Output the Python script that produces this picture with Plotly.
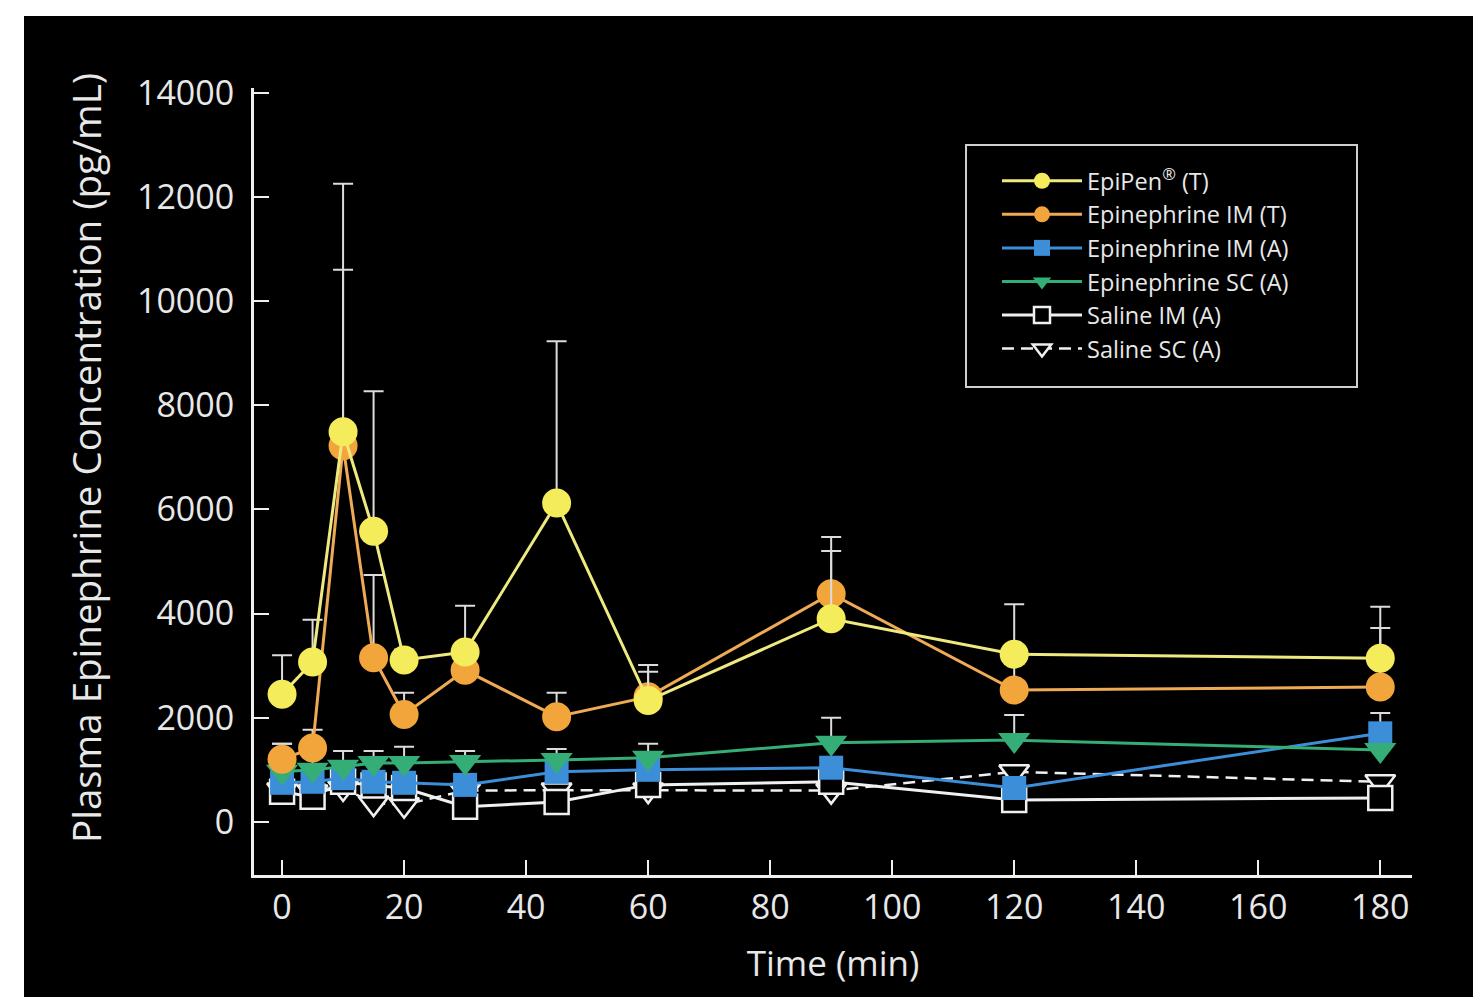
import plotly.graph_objects as go

time_min = [0, 5, 10, 15, 20, 30, 45, 60, 90, 120, 180]

epipen_t = [2450, 3070, 7490, 5580, 3110, 3260, 6120, 2330, 3900, 3220, 3140]
epipen_t_err = [750, 810, 4760, 2690, 200, 890, 3110, 680, 1300, 960, 990]

epi_im_t = [1200, 1420, 7220, 3150, 2060, 2910, 2020, 2400, 4380, 2530, 2590]
epi_im_t_err = [300, 350, 3380, 1590, 420, 400, 460, 480, 1090, 500, 1130]

epi_im_a = [750, 770, 840, 770, 750, 710, 960, 1000, 1040, 650, 1700]
epi_im_a_err = [150, 150, 150, 150, 150, 150, 150, 150, 150, 150, 390]

epi_sc_a = [960, 1000, 1060, 1130, 1130, 1150, 1190, 1230, 1520, 1570, 1380]
epi_sc_a_err = [540, 300, 300, 230, 310, 210, 210, 270, 480, 480, 0]

saline_im_a = [580, 480, 770, 700, 650, 290, 380, 710, 770, 420, 460]
saline_sc_a = [610, 575, 650, 360, 330, 600, 610, 610, 600, 960, 770]

x_ticks = [0, 20, 40, 60, 80, 100, 120, 140, 160, 180]
y_ticks = [0, 2000, 4000, 6000, 8000, 10000, 12000, 14000]
y_tick_text = [str(v) for v in y_ticks]

FONT = "Open Sans"
TXT = "#e8e8e8"
ERR = "#dcdcdc"

fig = go.Figure()

def err(arr):
    return dict(type="data", array=arr, arrayminus=[0] * len(arr), symmetric=False,
                color=ERR, thickness=2, width=10)

# drawn bottom to top
fig.add_trace(go.Scatter(
    x=time_min, y=saline_sc_a, name="Saline SC (A)", mode="lines+markers",
    line=dict(color="#f0f0f0", width=2.5, dash="12px,7px"),
    marker=dict(symbol="triangle-down", size=26, color="black",
                line=dict(color="#f0f0f0", width=2.5)),
    legendrank=6))
fig.add_trace(go.Scatter(
    x=time_min, y=saline_im_a, name="Saline IM (A)", mode="lines+markers",
    line=dict(color="#f0f0f0", width=3),
    marker=dict(symbol="square", size=24, color="black",
                line=dict(color="#f0f0f0", width=2.5)),
    legendrank=5))
fig.add_trace(go.Scatter(
    x=time_min, y=epi_im_a, name="Epinephrine IM (A)", mode="lines+markers",
    line=dict(color="#3d8ed8", width=3),
    marker=dict(symbol="square", size=24, color="#3d8ed8"),
    error_y=err(epi_im_a_err), legendrank=3))
fig.add_trace(go.Scatter(
    x=time_min, y=epi_sc_a, name="Epinephrine SC (A)", mode="lines+markers",
    line=dict(color="#35ad76", width=3),
    marker=dict(symbol="triangle-down", size=28, color="#35ad76"),
    error_y=err(epi_sc_a_err), legendrank=4))
fig.add_trace(go.Scatter(
    x=time_min, y=epi_im_t, name="Epinephrine IM (T)", mode="lines+markers",
    line=dict(color="#eeaa55", width=3),
    marker=dict(symbol="circle", size=29, color="#f2a53a"),
    error_y=err(epi_im_t_err), legendrank=2))
fig.add_trace(go.Scatter(
    x=time_min, y=epipen_t, name="EpiPen<sup>®</sup> (T)", mode="lines+markers",
    line=dict(color="#eeea80", width=3),
    marker=dict(symbol="circle", size=29, color="#f4ec5a"),
    error_y=err(epipen_t_err), legendrank=1))

pw, ph = 1158.0, 787.0
L, T = 254.0, 88.0
BOTTOM = 875.0

def px_x(p):
    return (p - L) / pw

def px_y(p):
    return (BOTTOM - p) / ph

fig.update_layout(
    width=1473, height=997,
    margin=dict(l=254, r=61, t=88, b=122),
    paper_bgcolor="black", plot_bgcolor="black",
    font=dict(family=FONT, color=TXT),
    showlegend=True,
    legend=dict(x=px_x(997), y=px_y(159), xanchor="left", yanchor="top",
                bgcolor="rgba(0,0,0,0)", borderwidth=0,
                font=dict(size=23.5, color=TXT, family=FONT),
                itemwidth=80),
    xaxis=dict(range=[-4.6, 185.2], tickvals=x_ticks, ticks="inside", ticklen=15,
               tickwidth=2, tickcolor="#f0f0f0", showline=True, linecolor="#f0f0f0",
               linewidth=3, showgrid=False, zeroline=False,
               tickfont=dict(size=34, color=TXT), ticklabelstandoff=0,
               title=dict(text="Time (min)", font=dict(size=35, color=TXT), standoff=24)),
    yaxis=dict(range=[-1020, 14090], tickvals=y_ticks, ticktext=y_tick_text,
               ticks="inside", ticklen=15,
               tickwidth=2, tickcolor="#f0f0f0", showline=True, linecolor="#f0f0f0",
               linewidth=3, showgrid=False, zeroline=False,
               tickfont=dict(size=34, color=TXT), ticklabelstandoff=10),
)

# y-axis title placed like the scanned original (slightly above the plot centre)
fig.add_annotation(text="Plasma Epinephrine Concentration (pg/mL)",
                   xref="paper", yref="paper", x=px_x(86), y=px_y(458),
                   xanchor="center", yanchor="middle", textangle=-90, showarrow=False,
                   font=dict(size=38.5, color=TXT, family=FONT))

# legend frame
fig.add_shape(type="rect", xref="paper", yref="paper",
              x0=px_x(966), x1=px_x(1357), y0=px_y(387), y1=px_y(145),
              fillcolor="rgba(0,0,0,0)", line=dict(color="#cfcfcf", width=2), layer="above")

# white page edges around the scanned black panel
fig.add_shape(type="rect", xref="paper", yref="paper",
              x0=px_x(-10), x1=px_x(1483), y0=px_y(16), y1=px_y(-10),
              fillcolor="white", line=dict(width=0), layer="above")
fig.add_shape(type="rect", xref="paper", yref="paper",
              x0=px_x(-10), x1=px_x(24), y0=px_y(1007), y1=px_y(-10),
              fillcolor="white", line=dict(width=0), layer="above")

fig.write_html("out.html", config={"displayModeBar": False},
               post_script="document.body.style.margin='0';document.body.style.overflow='hidden';")
